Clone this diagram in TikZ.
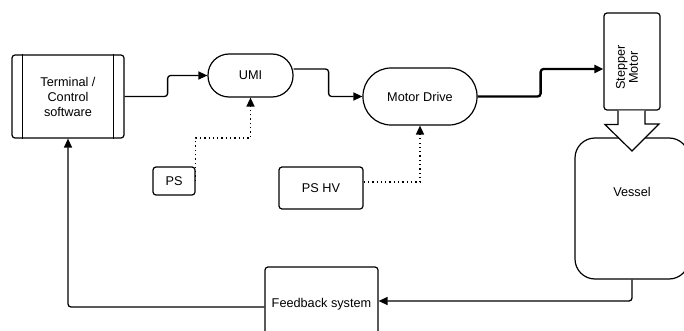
\documentclass[tikz,border=0pt]{standalone}
\usepackage{fontspec}
\setmainfont{Liberation Sans}
\usetikzlibrary{arrows.meta}
\begin{document}
\begin{tikzpicture}[x=1pt,y=-1pt,
  every node/.style={font=\fontsize{12.7}{15}\selectfont},
  box/.style={draw,line width=1.2pt,rounded corners=3pt,minimum width=#1,inner sep=0pt,align=center},
  conn/.style={line width=1.3pt,rounded corners=3pt,-{Triangle[length=9pt,width=8pt]}},
  dotconn/.style={line width=1.5pt,dash pattern=on 1.3pt off 3pt,rounded corners=0pt,-{Triangle[length=9pt,width=8pt]}}]
\useasboundingbox (0,0) rectangle (684,331);
\clip (0,0) rectangle (684,331);
% nodes
\node[box=112pt,minimum height=83pt] (term) at (68,96.5) {Terminal /\\Control\\software};
\draw[line width=1.2pt] ([xshift=11pt]term.north west) -- ([xshift=11pt]term.south west);
\draw[line width=1.2pt] ([xshift=-11pt]term.north east) -- ([xshift=-11pt]term.south east);
\node[box=85pt,minimum height=43pt,rounded corners=21pt] (umi) at (250.5,75.5) {UMI};
\node[box=114pt,minimum height=57pt,rounded corners=28pt] (motor) at (420,96.5) {Motor Drive};
\node[box=56pt,minimum height=97pt] (stepper) at (632,61.5) {};
\node[rotate=90,align=center,font=\fontsize{12.7}{13}\selectfont] (steplbl) at ([xshift=-5pt,yshift=-6pt]stepper.center) {Stepper\\Motor};
\node[box=42pt,minimum height=28pt] (ps) at (174,181) {PS};
\node[box=84pt,minimum height=42pt] (pshv) at (321,188) {PS HV};
\node[box=114pt,minimum height=141pt,rounded corners=20pt] (vessel) at (632,208.5) {};
\node (vessellbl) at (632,192) {Vessel};
\node[box=113pt,minimum height=74pt] (fb) at (321.5,304) {Feedback system};
% block arrow stepper -> vessel
\draw[line width=1.2pt,fill=white,line join=miter]
  ([xshift=-14pt]stepper.south) -- ++(0,14) -- ++(-13,0) -- (632,151) -- ++(27,-27) -- ++(-14,0) -- ([xshift=13pt]stepper.south);
% connectors
\draw[conn] (term.east) -- ++(43,0) |- (umi.west);
\draw[conn] ([yshift=6.5pt]umi.east) -- ++(35,0) |- (motor.west);
\draw[conn,line width=2.3pt] (motor.east) -- ++(63,0) |- ([yshift=-7.5pt]stepper.west);
\draw[dotconn] (ps.east) -- ++(0,-43) -| (umi.south);
\draw[dotconn] ([yshift=6pt]pshv.east) -| (motor.south);
\draw[conn] (vessel.south) |- ([yshift=3pt]fb.east);
\draw[conn] ([yshift=-3pt]fb.west) -| (term.south);
\end{tikzpicture}
\end{document}
